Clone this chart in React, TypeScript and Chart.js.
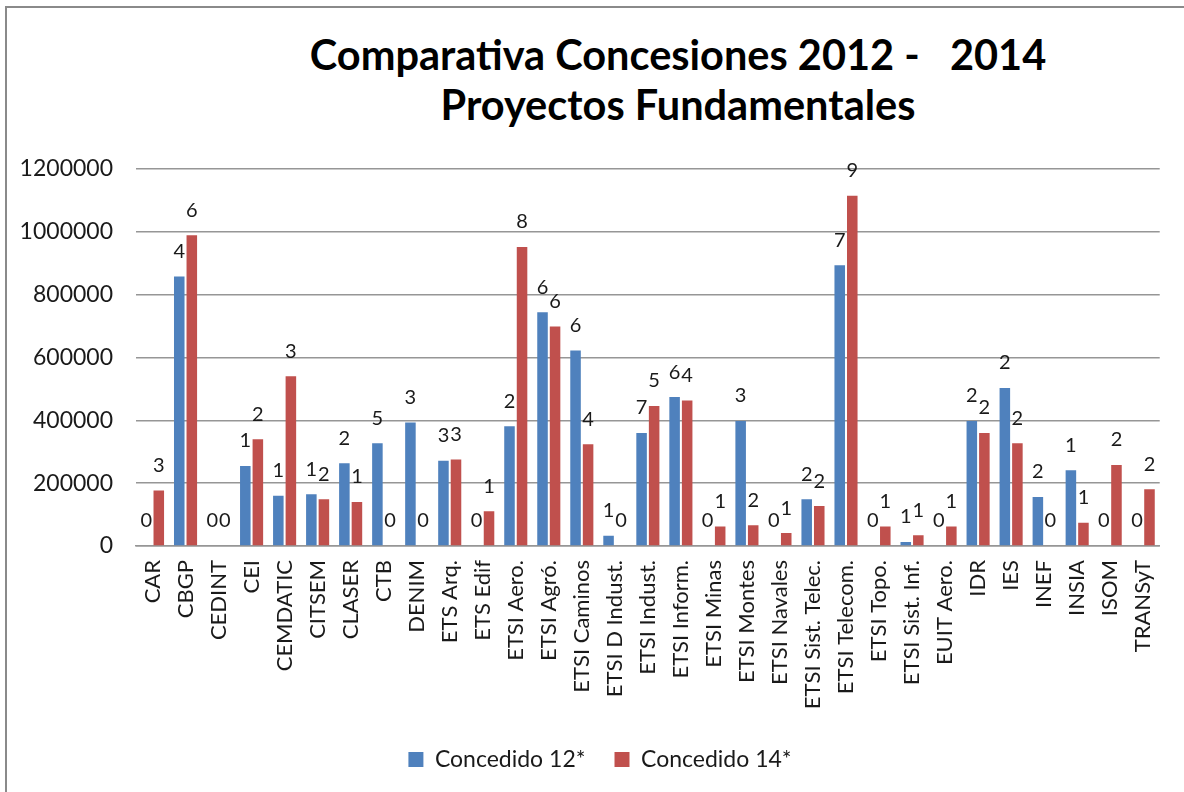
import React, { useEffect, useRef } from "react";
import { Chart, registerables } from "chart.js";

Chart.register(...registerables);

const categories = [
  "CAR", "CBGP", "CEDINT", "CEI", "CEMDATIC", "CITSEM", "CLASER", "CTB", "DENIM",
  "ETS Arq.", "ETS Edif", "ETSI Aero.", "ETSI Agró.", "ETSI Caminos", "ETSI D Indust.",
  "ETSI Indust.", "ETSI Inform.", "ETSI Minas", "ETSI Montes", "ETSI Navales",
  "ETSI Sist. Telec.", "ETSI Telecom.", "ETSI Topo.", "ETSI Sist. Inf.", "EUIT Aero.",
  "IDR", "IES", "INEF", "INSIA", "ISOM", "TRANSyT",
];

const concedido12 = [
  0, 858000, 0, 255000, 160000, 165000, 263000, 327000, 393000,
  271000, 0, 381000, 744000, 622000, 33000,
  360000, 474000, 0, 398000, 0,
  149000, 894000, 0, 13000, 0,
  398000, 503000, 156000, 241000, 0, 0,
];

const concedido14 = [
  177000, 989000, 0, 340000, 540000, 149000, 140000, 0, 0,
  275000, 111000, 952000, 699000, 324000, 0,
  446000, 463000, 62000, 66000, 41000,
  127000, 1115000, 62000, 34000, 62000,
  360000, 327000, 0, 74000, 258000, 181000,
];

const proyectos12 = [
  0, 4, 0, 1, 1, 1, 2, 5, 3,
  3, 0, 2, 6, 6, 1,
  7, 6, 0, 3, 0,
  2, 7, 0, 1, 0,
  2, 2, 2, 1, 0, 0,
];

const proyectos14 = [
  3, 6, 0, 2, 3, 2, 1, 0, 0,
  3, 1, 8, 6, 4, 0,
  5, 4, 1, 2, 1,
  2, 9, 1, 1, 1,
  2, 2, 0, 1, 2, 2,
];

const seriesNames = ["Concedido 12*", "Concedido 14*"];
const seriesColors = ["#4F81BD", "#C0504D"];
const titleLines = ["Comparativa Concesiones 2012 -   2014", "Proyectos Fundamentales"];
const yMin = 0;
const yMax = 1200000;
const yStep = 200000;

const FONT = "Lato, 'Open Sans', sans-serif";

const countLabels = {
  id: "countLabels",
  afterDatasetsDraw(chart: any) {
    const ctx = chart.ctx;
    ctx.save();
    ctx.font = `20px ${FONT}`;
    ctx.fillStyle = "#1a1a1a";
    ctx.textAlign = "center";
    ctx.textBaseline = "middle";
    const counts = [proyectos12, proyectos14];
    chart.data.datasets.forEach((_ds: any, di: number) => {
      const meta = chart.getDatasetMeta(di);
      meta.data.forEach((bar: any, i: number) => {
        ctx.fillText(String(counts[di][i]), bar.x, bar.y - 25);
      });
    });
    ctx.restore();
  },
};

// shifts the legend block to where the original spreadsheet chart puts it
const legendShift = {
  id: "legendShift",
  afterLayout(chart: any) {
    const lg = chart.legend;
    if (!lg) return;
    const dx = 20;
    const dy = 2;
    lg.left += dx;
    lg.right += dx;
    lg.top += dy;
    lg.bottom += dy;
  },
};

export default function App() {
  const canvasRef = useRef<HTMLCanvasElement | null>(null);

  useEffect(() => {
    const canvas = canvasRef.current;
    if (!canvas) return;
    const chart = new Chart(canvas, {
      type: "bar",
      data: {
        labels: categories,
        datasets: [
          {
            label: seriesNames[0],
            data: concedido12,
            backgroundColor: seriesColors[0],
            borderWidth: 0,
            categoryPercentage: 0.76,
            barPercentage: 0.84,
          },
          {
            label: seriesNames[1],
            data: concedido14,
            backgroundColor: seriesColors[1],
            borderWidth: 0,
            categoryPercentage: 0.76,
            barPercentage: 0.84,
          },
        ],
      },
      options: {
        animation: false,
        responsive: false,
        devicePixelRatio: 1,
        layout: { padding: { left: 0, right: 24, top: 169, bottom: 0 } },
        plugins: {
          title: { display: false },
          tooltip: { enabled: false },
          legend: {
            position: "bottom",
            labels: {
              boxWidth: 15,
              boxHeight: 15,
              padding: 29,
              color: "#1a1a1a",
              font: { family: FONT, size: 23 },
            },
          },
        },
        scales: {
          x: {
            grid: { display: false, drawTicks: false },
            border: { display: true, color: "#969696", width: 1.5 },
            ticks: {
              autoSkip: false,
              minRotation: 90,
              maxRotation: 90,
              padding: 14,
              color: "#1a1a1a",
              font: { family: FONT, size: 22 },
            },
            afterFit(scale: any) {
              scale.height = 171;
            },
          },
          y: {
            min: yMin,
            max: yMax,
            grid: { color: "#969696", lineWidth: 1.5, drawTicks: false },
            border: { display: false },
            ticks: {
              stepSize: yStep,
              padding: 23,
              color: "#1a1a1a",
              font: { family: FONT, size: 23 },
              callback: (v: any) => String(v),
            },
            afterFit(scale: any) {
              scale.width = 136;
            },
          },
        },
      },
      plugins: [countLabels, legendShift],
    });
    return () => chart.destroy();
  }, []);

  return (
    <div
      style={{
        position: "absolute",
        left: 0,
        top: 0,
        width: 1184,
        height: 792,
        overflow: "hidden",
        background: "#ffffff",
      }}
    >
      <div
        style={{
          position: "absolute",
          left: 5,
          top: 6,
          right: 0,
          bottom: 0,
          borderTop: "2px solid #8a8a8a",
          borderLeft: "2px solid #8a8a8a",
        }}
      />
      <div
        style={{
          position: "absolute",
          left: 278,
          top: 29,
          width: 800,
          textAlign: "center",
          fontFamily: FONT,
          fontWeight: 700,
          fontSize: 41.5,
          lineHeight: "50px",
          color: "#000",
          whiteSpace: "pre",
        }}
      >
        {titleLines.map((t) => (
          <div key={t}>{t}</div>
        ))}
      </div>
      <canvas
        ref={canvasRef}
        width={1184}
        height={779}
        style={{ position: "absolute", left: 0, top: 0, width: 1184, height: 779 }}
      />
    </div>
  );
}
